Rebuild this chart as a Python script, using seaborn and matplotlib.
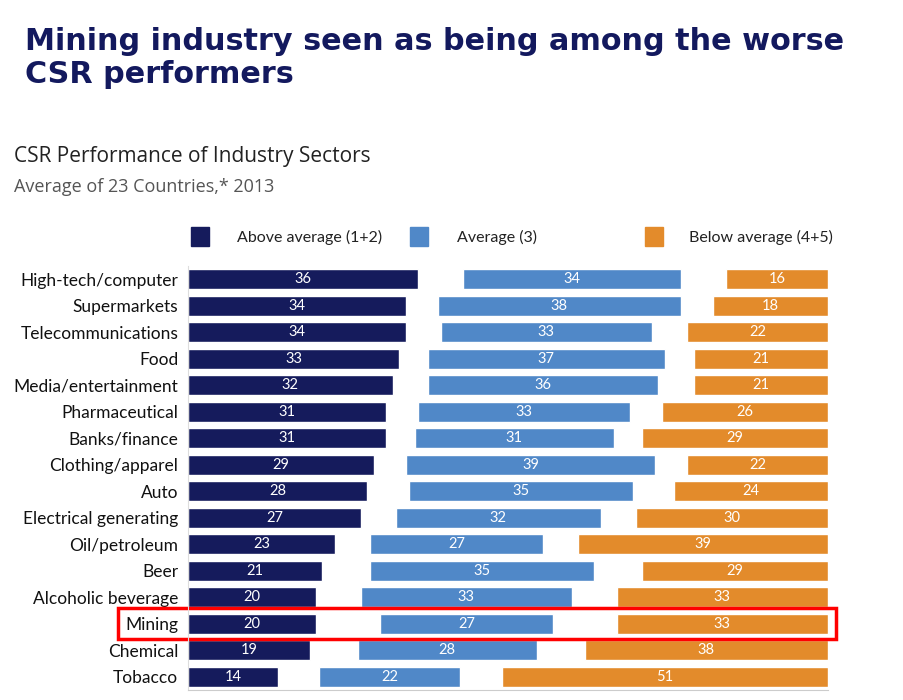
import numpy as np
import pandas as pd
import seaborn as sns
import matplotlib.pyplot as plt
from matplotlib.patches import Rectangle

sectors = ["High-tech/computer", "Supermarkets", "Telecommunications", "Food",
           "Media/entertainment", "Pharmaceutical", "Banks/finance", "Clothing/apparel",
           "Auto", "Electrical generating", "Oil/petroleum", "Beer",
           "Alcoholic beverage", "Mining", "Chemical", "Tobacco"]
above = [36, 34, 34, 33, 32, 31, 31, 29, 28, 27, 23, 21, 20, 20, 19, 14]
average = [34, 38, 33, 37, 36, 33, 31, 39, 35, 32, 27, 35, 33, 27, 28, 22]
below = [16, 18, 22, 21, 21, 26, 29, 22, 24, 30, 39, 29, 33, 33, 38, 51]
legend_labels = ["Above average (1+2)", "Average (3)", "Below average (4+5)"]

navy = "#151b5c"
blue = "#5088c8"
orange = "#e38b2b"

sns.set_style("white")
plt.rcParams['font.family'] = ['Lato', 'DejaVu Sans']

df = pd.DataFrame({"sector": sectors, "above": above, "average": average, "below": below})
# gap between the groups: the remainder of 100 split in two
df["gap"] = (100 - df["above"] - df["average"] - df["below"]) / 2
df["avg_left"] = df["above"] + df["gap"]
df["below_left"] = df["avg_left"] + df["average"] + df["gap"]

fig = plt.figure(figsize=(9.04, 7.0), dpi=100)
ax = fig.add_axes([188 / 904, 10 / 700, 640 / 904, 424 / 700])

sns.barplot(data=df, x="above", y="sector", color=navy, width=0.76,
            saturation=1, ax=ax, orient="h")
ypos = np.arange(len(sectors))
ax.barh(ypos, df["average"], left=df["avg_left"], height=0.76, color=blue)
ax.barh(ypos, df["below"], left=df["below_left"], height=0.76, color=orange)

for i, r in df.iterrows():
    ax.text(r["above"] / 2, i, str(r["above"]), color="white", ha="center", va="center", fontsize=10.5)
    ax.text(r["avg_left"] + r["average"] / 2, i, str(r["average"]), color="white",
            ha="center", va="center", fontsize=10.5)
    ax.text(r["below_left"] + r["below"] / 2, i, str(r["below"]), color="white",
            ha="center", va="center", fontsize=10.5)

ax.set_xlim(0, 100)
ax.set_ylim(len(sectors) - 0.5, -0.5)
ax.set_xlabel("")
ax.set_ylabel("")
ax.set_xticks([])
ax.tick_params(axis="y", length=0, pad=7, labelsize=12.5, labelcolor="#111111")
for s in ["top", "right"]:
    ax.spines[s].set_visible(False)
ax.spines["left"].set_color("#dddddd")
ax.spines["bottom"].set_color("#cccccc")

# red box around Mining
mi = sectors.index("Mining")
ax.add_patch(Rectangle((-10.9, mi - 0.58), 112.2, 1.16, fill=False, edgecolor="#ff0000",
                       linewidth=2.5, clip_on=False))

fig.text(25 / 904, 1 - 50 / 700, "Mining industry seen as being among the worse",
         fontsize=21.8, fontweight="bold", color="#13195e", family="DejaVu Sans", va="baseline")
fig.text(25 / 904, 1 - 83 / 700, "CSR performers",
         fontsize=21.8, fontweight="bold", color="#13195e", family="DejaVu Sans", va="baseline")
fig.text(14 / 904, 1 - 162 / 700, "CSR Performance of Industry Sectors", fontsize=15,
         color="#222222", family="Open Sans", va="baseline")
fig.text(14 / 904, 1 - 192 / 700, "Average of 23 Countries,* 2013", fontsize=13,
         color="#555555", family="Open Sans", va="baseline")

for xs, xt, c, lab in zip([191, 410, 645], [237, 457, 689], [navy, blue, orange], legend_labels):
    fig.patches.append(Rectangle((xs / 904, 1 - 246 / 700), 18 / 904, 19 / 700, color=c,
                                 transform=fig.transFigure, figure=fig))
    fig.text(xt / 904, 1 - 237 / 700, lab, fontsize=11.5, color="#222222", va="center")

fig.savefig("out.png", dpi=100)
